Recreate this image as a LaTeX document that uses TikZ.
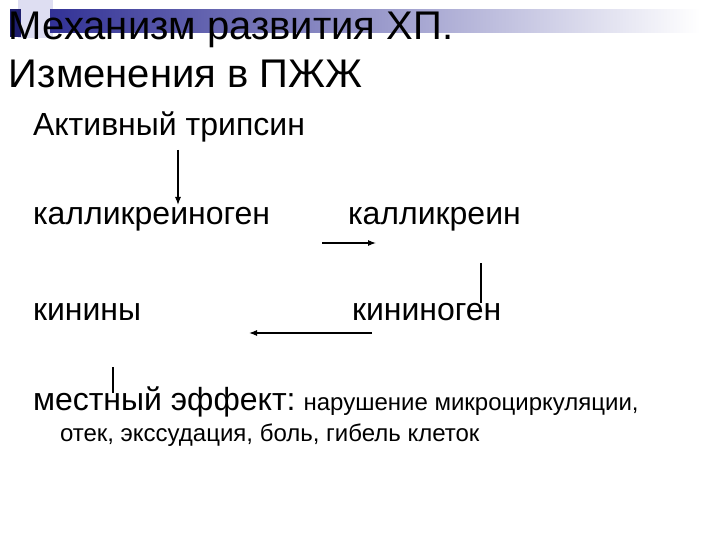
\documentclass[tikz,border=0pt]{standalone}
\usepackage{fontspec}
\setmainfont{Liberation Sans}
\usetikzlibrary{arrows.meta}
\definecolor{navy}{RGB}{30,30,110}
\definecolor{barblue}{RGB}{50,50,150}
\definecolor{barmid}{RGB}{150,150,200}
\definecolor{lav}{RGB}{222,222,242}
\begin{document}
\begin{tikzpicture}[x=1pt,y=-1pt,
  every node/.style={inner sep=0pt,outer sep=0pt,anchor=base west},
  big/.style={font=\fontsize{32}{36}\selectfont},
  small/.style={font=\fontsize{24}{28}\selectfont},
  titlef/.style={font=\fontsize{40}{48}\selectfont},
  conn/.style={line width=1.1pt},
  arr/.style={conn,-{Latex[length=8pt,width=6pt]}}]
\useasboundingbox (0,0) rectangle (720,540);
\fill[white] (0,0) rectangle (720,540);
% decoration
\fill[lav] (18,0) rectangle (53,38);
\shade[left color=barblue, middle color=barmid, right color=white, shading angle=90] (50,10) rectangle (700,33);
\fill[navy] (10,9) rectangle (21,37);
% title
\node[titlef] (t1) at (9,40) {Механизм развития ХП.};
\node[titlef] (t2) at (9,88) {Изменения в ПЖЖ};
% body
\node[big] (trip) at (33,136) {Активный трипсин};
\node[big] (kgen) at (33,225) {калликреиноген};
\node[big] (kal) at (348,225) {калликреин};
\node[big] (kin) at (33,320) {кинины};
\node[big] (kinog) at (352,320) {кининоген};
\node[big] (eff) at (33,410) {местный эффект:};
\node[small] (eff2) at (eff.base east) [xshift=8pt] {нарушение микроциркуляции,};
\node[small] (eff3) at (60,441) {отек, экссудация, боль, гибель клеток};
% connectors
\coordinate (a1s) at (178,150); \coordinate (a1e) at (178,205);
\draw[arr] (a1s) -- (a1e);
\coordinate (a2s) at (322,243); \coordinate (a2e) at (376,243);
\draw[arr] (a2s) -- (a2e);
\coordinate (a3s) at (481,263); \coordinate (a3e) at (481,303);
\draw[conn] (a3s) -- (a3e);
\coordinate (a4s) at (372,333); \coordinate (a4e) at (249,333);
\draw[arr] (a4s) -- (a4e);
\coordinate (a5s) at (113,367); \coordinate (a5e) at (113,393);
\draw[conn] (a5s) -- (a5e);
\end{tikzpicture}
\end{document}
